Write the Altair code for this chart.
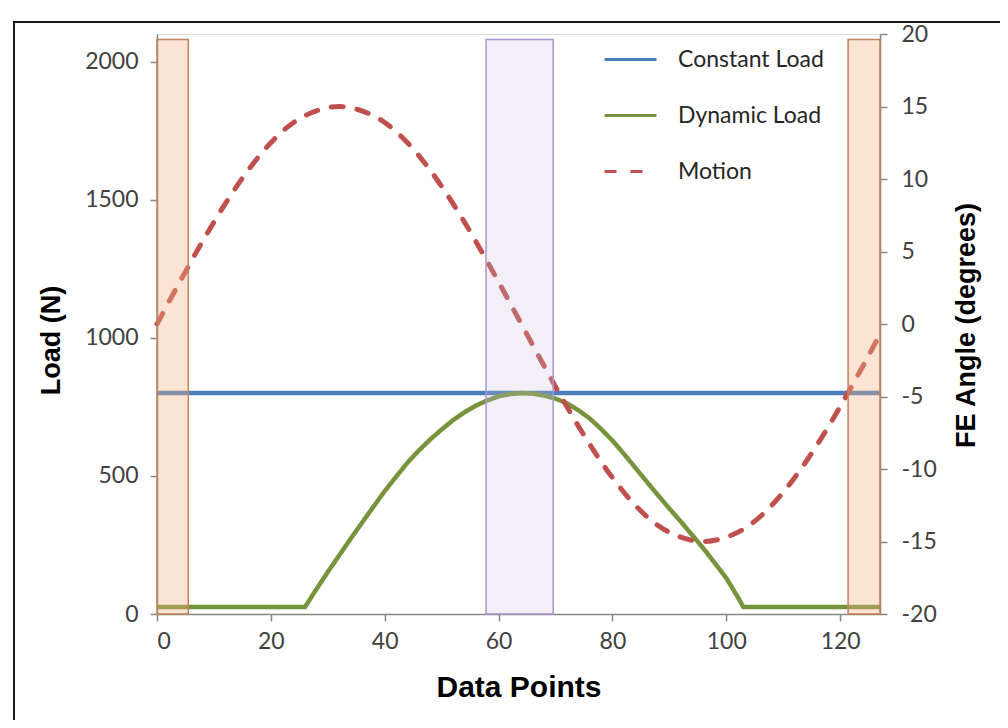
import altair as alt
import pandas as pd

# ---- data ----
const_x = [0, 127]
const_y = [800, 800]

dyn_x = [0, 10, 20, 26, 28, 30, 32, 34, 36, 38, 40, 42, 44, 46, 48, 50, 52, 54, 56, 58, 60, 62, 64,
         66, 68, 70, 72, 74, 76, 78, 80, 82, 84, 86, 88, 90, 92, 94, 96, 98, 100, 102, 103,
         110, 120, 127]
dyn_y = [25, 25, 25, 25, 90, 152, 212, 272, 330, 388, 445, 497, 548, 592, 632, 668, 702, 730, 754, 773, 788, 796, 800,
         798, 791, 780, 763, 738, 708, 670, 628, 580, 530, 480, 430, 382, 335, 286, 237, 184, 130, 62, 25,
         25, 25, 25]

motion_x = [0, 4, 8, 12, 16, 20, 24, 28, 32, 36, 40, 44, 48, 52, 56, 60, 64,
            68, 72, 76, 80, 84, 88, 92, 96, 100, 104, 108, 112, 116, 120, 124, 127]
motion_y = [0, 2.9, 5.7, 8.3, 10.6, 12.5, 13.9, 14.7, 15.0, 14.7, 13.9, 12.5, 10.6, 8.3, 5.7, 2.9, 0,
            -2.9, -5.7, -8.3, -10.6, -12.5, -13.9, -14.7, -15.0, -14.7, -13.9, -12.5, -10.6, -8.3, -5.7, -2.9, -0.7]

region_start = [0, 57.8, 121.4]
region_end = [5.5, 69.6, 127]
region_top = [2080, 2080, 2080]
region_kind = ["edge", "middle", "edge"]

series_names = ["Constant Load", "Dynamic Load", "Motion"]
series_colors = ["#4A7EBB", "#77933C", "#C0504D"]
series_dash = [[1, 0], [1, 0], [12, 14]]

load_df = pd.concat([
    pd.DataFrame({"x": const_x, "y": const_y, "series": "Constant Load"}),
    pd.DataFrame({"x": dyn_x, "y": dyn_y, "series": "Dynamic Load"}),
])
motion_df = pd.DataFrame({"x": motion_x, "y": motion_y, "series": "Motion"})
region_df = pd.DataFrame({"x0": region_start, "x1": region_end, "top": region_top,
                          "bottom": [0, 0, 0], "kind": region_kind})

LABEL_FONT = "Lato"
TITLE_FONT = "Liberation Sans"
AXIS_GREY = "#868686"

x_scale = alt.Scale(domain=[0, 127], nice=False, zero=False)
load_scale = alt.Scale(domain=[0, 2100], nice=False)
angle_scale = alt.Scale(domain=[-20, 20], nice=False)

legend_kw = dict(
    title=None, orient="none", legendX=446, legendY=-2,
    symbolType="stroke", symbolSize=2704, symbolStrokeWidth=3,
    labelFont=LABEL_FONT, labelFontSize=23, labelColor="#262626",
    labelOffset=20, rowPadding=16, padding=0, labelLimit=300,
)
color_enc = alt.Color(
    "series:N",
    scale=alt.Scale(domain=series_names, range=series_colors),
    legend=alt.Legend(**legend_kw),
)
dash_enc = alt.StrokeDash(
    "series:N",
    scale=alt.Scale(domain=series_names, range=series_dash),
    legend=alt.Legend(**legend_kw),
)

x_axis = alt.Axis(
    values=[0, 20, 40, 60, 80, 100, 120], grid=False, tickSize=7,
    tickColor=AXIS_GREY, domainColor=AXIS_GREY, domainWidth=1.5, tickWidth=1.5,
    labelFont=LABEL_FONT, labelFontSize=23, labelColor="#404040", labelPadding=9,
    title="Data Points", titleFont=TITLE_FONT, titleFontSize=30, titleFontWeight="bold",
    titleColor="#000000", titlePadding=19,
)

frame = alt.Chart(pd.DataFrame({"a": [0]})).mark_rect(
    filled=False, stroke="#1a1a1a", strokeWidth=2
).encode(
    x=alt.value(-143), x2=alt.value(846), y=alt.value(-12), y2=alt.value(720)
)

load_lines = alt.Chart(load_df).mark_line(strokeWidth=4.5).encode(
    x=alt.X("x:Q", scale=x_scale, axis=x_axis),
    y=alt.Y("y:Q", scale=load_scale, axis=alt.Axis(
        orient="left", values=[0, 500, 1000, 1500, 2000], format="d", grid=False, tickSize=7,
        tickColor=AXIS_GREY, domainColor=AXIS_GREY, domainWidth=1.5, tickWidth=1.5,
        labelFont=LABEL_FONT, labelFontSize=23, labelColor="#404040", labelPadding=12,
        title="Load (N)", titleFont=TITLE_FONT, titleFontSize=27, titleFontWeight="bold",
        titleColor="#000000", titlePadding=19, titleY=306,
    )),
    color=color_enc,
    strokeDash=dash_enc,
    order=alt.Order("x:Q"),
)

motion_line = alt.Chart(motion_df).mark_line(strokeWidth=5, interpolate="monotone",
                                             strokeCap="round").encode(
    x=alt.X("x:Q", scale=x_scale),
    y=alt.Y("y:Q", scale=angle_scale, axis=alt.Axis(
        orient="right", values=[-20, -15, -10, -5, 0, 5, 10, 15, 20],
        labelExpr="'' + datum.value", grid=False, tickSize=7,
        tickColor=AXIS_GREY, domainColor=AXIS_GREY, domainWidth=1.5, tickWidth=1.5,
        labelFont=LABEL_FONT, labelFontSize=23, labelColor="#404040", labelPadding=14,
        title="FE Angle (degrees)", titleFont=TITLE_FONT, titleFontSize=27, titleAngle=270,
        titleFontWeight="bold", titleColor="#000000",
        titleX=86, titleY=291, titleBaseline="middle", titleAlign="center",
    )),
    color=color_enc,
    strokeDash=dash_enc,
    order=alt.Order("x:Q"),
)

regions = alt.Chart(region_df).mark_rect(strokeWidth=1.5).encode(
    x=alt.X("x0:Q", scale=x_scale),
    x2="x1:Q",
    y=alt.Y("top:Q", scale=load_scale, axis=None),
    y2="bottom:Q",
    fill=alt.Fill("kind:N", scale=alt.Scale(domain=["edge", "middle"],
                                            range=["#F4B183", "#CCC0DA"]), legend=None),
    fillOpacity=alt.FillOpacity("kind:N", scale=alt.Scale(domain=["edge", "middle"],
                                                          range=[0.35, 0.25]), legend=None),
    stroke=alt.Stroke("kind:N", scale=alt.Scale(domain=["edge", "middle"],
                                                range=["#C0825A", "#A896CC"]), legend=None),
)

chart = alt.layer(frame, load_lines, motion_line, regions).resolve_scale(
    y="independent", fill="independent", stroke="independent"
).properties(
    width=723, height=580,
    autosize=alt.AutoSizeParams(type="none"),
    padding={"left": 149, "top": 26, "right": 120, "bottom": 106},
).configure_view(stroke=None).configure(background="white")

chart.save("out.html", embed_options={"renderer": "svg", "actions": False})
